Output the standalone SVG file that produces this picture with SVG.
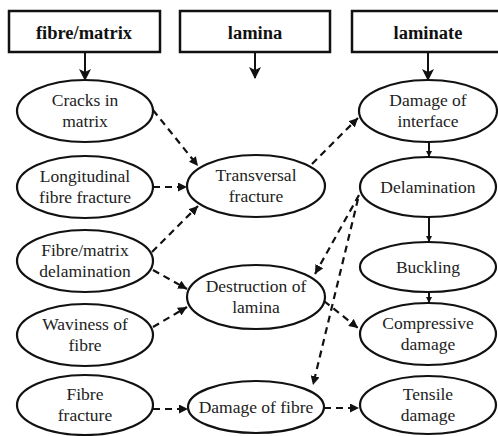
<svg xmlns="http://www.w3.org/2000/svg" width="498" height="436" viewBox="0 0 498 436" font-family="'Liberation Serif', 'DejaVu Serif', serif">
  <style>
    .box { fill: #fff; stroke: #111; stroke-width: 2.5; }
    .node { fill: #fff; stroke: #111; stroke-width: 2.2; }
    text { font-family: 'Liberation Serif', 'DejaVu Serif', serif; }
    .hdr { font-weight: bold; font-size: 18.5px; fill: #111; text-anchor: middle; }
    .lbl { font-size: 17.5px; fill: #222; text-anchor: middle; }
    .solid { fill: none; stroke: #111; stroke-width: 2; }
    .dash { fill: none; stroke: #111; stroke-width: 2.2; stroke-dasharray: 7 5; }
  </style>
  <defs>
    <marker id="head" viewBox="0 0 12 12" refX="11" refY="6" markerWidth="12" markerHeight="12" markerUnits="userSpaceOnUse" orient="auto">
      <path d="M0,0 L12,6 L0,12 L3,6 Z" fill="#111"/>
    </marker>
    <marker id="tri" viewBox="0 0 10 10" refX="10" refY="5" markerWidth="9" markerHeight="9" markerUnits="userSpaceOnUse" orient="auto">
      <path d="M0,0 L10,5 L0,10 Z" fill="#111"/>
    </marker>
    <marker id="small" viewBox="0 0 10 10" refX="10" refY="5" markerWidth="6" markerHeight="6" markerUnits="userSpaceOnUse" orient="auto">
      <path d="M0,0 L10,5 L0,10 Z" fill="#111"/>
    </marker>
  </defs>

  <!-- level headers -->
  <g id="hdr-fibre-matrix">
    <rect class="box" x="9" y="11" width="151" height="41"/>
    <text class="hdr" x="84" y="39" font-family="Liberation Serif">fibre/matrix</text>
  </g>
  <g id="hdr-lamina">
    <rect class="box" x="180" y="11" width="150" height="41"/>
    <text class="hdr" x="255" y="39">lamina</text>
  </g>
  <g id="hdr-laminate">
    <rect class="box" x="352" y="11" width="152" height="41"/>
    <text class="hdr" x="428" y="39">laminate</text>
  </g>

  <!-- fibre/matrix column -->
  <g id="n-cracks">
    <ellipse class="node" cx="85" cy="111" rx="68" ry="31"/>
    <text class="lbl" x="85" y="106">Cracks in</text>
    <text class="lbl" x="85" y="127">matrix</text>
  </g>
  <g id="n-longitudinal">
    <ellipse class="node" cx="85" cy="187" rx="68" ry="31"/>
    <text class="lbl" x="85" y="182">Longitudinal</text>
    <text class="lbl" x="85" y="203">fibre fracture</text>
  </g>
  <g id="n-fm-delam">
    <ellipse class="node" cx="85" cy="261" rx="68" ry="31"/>
    <text class="lbl" x="85" y="256">Fibre/matrix</text>
    <text class="lbl" x="85" y="277">delamination</text>
  </g>
  <g id="n-waviness">
    <ellipse class="node" cx="85" cy="335" rx="68" ry="31"/>
    <text class="lbl" x="85" y="330">Waviness of</text>
    <text class="lbl" x="85" y="351">fibre</text>
  </g>
  <g id="n-fibre-fracture">
    <ellipse class="node" cx="85" cy="405" rx="68" ry="30"/>
    <text class="lbl" x="85" y="400">Fibre</text>
    <text class="lbl" x="85" y="421">fracture</text>
  </g>

  <!-- lamina column -->
  <g id="n-transversal">
    <ellipse class="node" cx="256" cy="186" rx="69" ry="31"/>
    <text class="lbl" x="256" y="181">Transversal</text>
    <text class="lbl" x="256" y="202">fracture</text>
  </g>
  <g id="n-destruction">
    <ellipse class="node" cx="256" cy="297" rx="69" ry="32"/>
    <text class="lbl" x="256" y="292">Destruction of</text>
    <text class="lbl" x="256" y="313">lamina</text>
  </g>
  <g id="n-damage-fibre">
    <ellipse class="node" cx="256" cy="407" rx="68" ry="26"/>
    <text class="lbl" x="256" y="413">Damage of fibre</text>
  </g>

  <!-- laminate column -->
  <g id="n-interface">
    <ellipse class="node" cx="428" cy="111" rx="69" ry="31"/>
    <text class="lbl" x="428" y="106">Damage of</text>
    <text class="lbl" x="428" y="127">interface</text>
  </g>
  <g id="n-delamination">
    <ellipse class="node" cx="428" cy="187" rx="68" ry="30"/>
    <text class="lbl" x="428" y="193">Delamination</text>
  </g>
  <g id="n-buckling">
    <ellipse class="node" cx="428" cy="267" rx="68" ry="25"/>
    <text class="lbl" x="428" y="273">Buckling</text>
  </g>
  <g id="n-compressive">
    <ellipse class="node" cx="428" cy="334" rx="68" ry="31"/>
    <text class="lbl" x="428" y="329">Compressive</text>
    <text class="lbl" x="428" y="350">damage</text>
  </g>
  <g id="n-tensile">
    <ellipse class="node" cx="428" cy="405" rx="68" ry="29"/>
    <text class="lbl" x="428" y="400">Tensile</text>
    <text class="lbl" x="428" y="421">damage</text>
  </g>

  <!-- connectors -->
  <g id="connectors">
    <!-- header arrows -->
    <line class="solid" x1="85" y1="52" x2="85" y2="80" marker-end="url(#head)"/>
    <line class="solid" x1="255" y1="52" x2="255" y2="78" marker-end="url(#head)"/>
    <line class="solid" x1="428" y1="52" x2="428" y2="80" marker-end="url(#head)"/>

    <!-- laminate chain -->
    <line class="solid" x1="429" y1="142" x2="429" y2="157" marker-end="url(#small)"/>
    <line class="solid" x1="429" y1="217" x2="429" y2="242" marker-end="url(#small)"/>
    <line class="solid" x1="429" y1="292" x2="429" y2="303" marker-end="url(#small)"/>

    <!-- into transversal fracture -->
    <line class="dash" x1="153" y1="110" x2="198" y2="166" marker-end="url(#tri)"/>
    <line class="dash" x1="153" y1="187" x2="187" y2="187" marker-end="url(#tri)"/>
    <line class="dash" x1="152" y1="252" x2="198" y2="206" marker-end="url(#tri)"/>

    <!-- into destruction of lamina -->
    <line class="dash" x1="153" y1="270" x2="187" y2="289" marker-end="url(#tri)"/>
    <line class="dash" x1="153" y1="327" x2="187" y2="307" marker-end="url(#tri)"/>

    <!-- fibre fracture to damage of fibre -->
    <line class="dash" x1="153" y1="409" x2="188" y2="409" marker-end="url(#tri)"/>

    <!-- transversal fracture to damage of interface -->
    <line class="dash" x1="312" y1="164" x2="358" y2="118" marker-end="url(#tri)"/>

    <!-- delamination down to lamina level -->
    <line class="dash" x1="359" y1="195" x2="315" y2="274" marker-end="url(#tri)"/>
    <line class="dash" x1="358" y1="199" x2="313" y2="385" marker-end="url(#tri)"/>

    <!-- destruction of lamina to compressive damage -->
    <line class="dash" x1="324" y1="301" x2="358" y2="328" marker-end="url(#tri)"/>

    <!-- damage of fibre to tensile damage -->
    <line class="dash" x1="324" y1="408" x2="359" y2="408" marker-end="url(#tri)"/>
  </g>
</svg>
